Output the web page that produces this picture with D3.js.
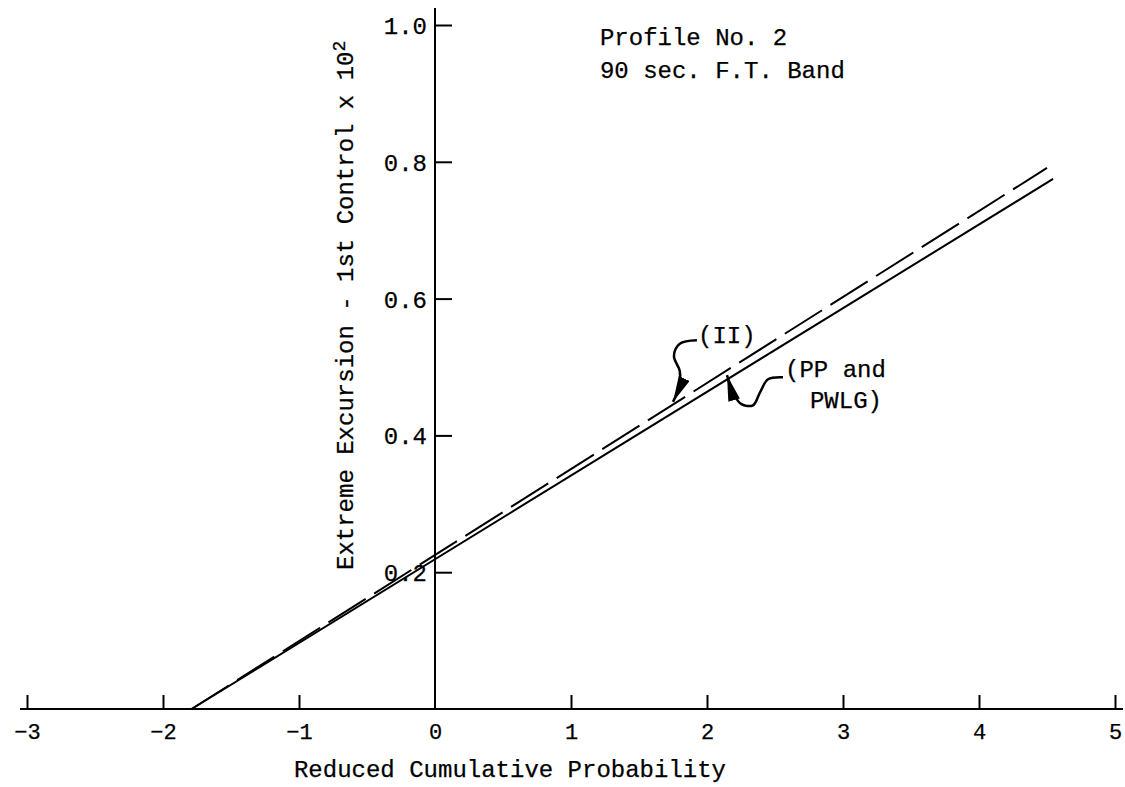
<!DOCTYPE html>
<html>
<head>
<meta charset="utf-8">
<script src="https://cdn.jsdelivr.net/npm/d3@7"></script>
<style>
  body { margin: 0; background: #fff; }
  svg text { font-family: "Liberation Mono", "Courier New", monospace; fill: #000; }
</style>
</head>
<body>
<div id="chart"></div>
<script>
// data
var xTicks = [-3, -2, -1, 0, 1, 2, 3, 4, 5];
var yTicks = [0.2, 0.4, 0.6, 0.8, 1.0];
var solidLine = [[-1.79, 0], [4.545, 0.775]];      // PP and PWLG
var dashedLine = [[-1.79, 0], [4.50, 0.791]];      // II
var arrowII = [[1.926, 0.539], [1.80, 0.534], [1.757, 0.516], [1.80, 0.494], [1.795, 0.472], [1.75, 0.449]];
var arrowPP = [[2.559, 0.485], [2.449, 0.482], [2.39, 0.463], [2.338, 0.444], [2.25, 0.446], [2.191, 0.463], [2.147, 0.488]];

var width = 1125,
    height = 787;

var svg = d3.select('#chart').append('svg')
    .attr('width', width)
    .attr('height', height);

var x = d3.scaleLinear().domain([-3, 5]).range([27, 1115]);
var y = d3.scaleLinear().domain([0, 1]).range([709, 25]);

// filled arrowhead, sized in pixels
svg.append('defs').append('marker')
    .attr('id', 'head')
    .attr('viewBox', '0 0 26 12')
    .attr('refX', 26)
    .attr('refY', 6)
    .attr('markerWidth', 26)
    .attr('markerHeight', 12)
    .attr('markerUnits', 'userSpaceOnUse')
    .attr('orient', 'auto')
    .append('path')
    .attr('d', 'M0,0 L26,6 L0,12 Z')
    .attr('fill', '#000');

// x axis
var xAxis = d3.axisBottom(x)
    .tickValues(xTicks)
    .tickSize(-14)
    .tickPadding(24)
    .tickFormat(d3.format('d'));

var gx = svg.append('g')
    .attr('transform', 'translate(0,' + y(0) + ')')
    .call(xAxis);
gx.select('.domain').remove();
gx.selectAll('.tick line').attr('stroke', '#000').attr('stroke-width', 2);
gx.selectAll('.tick').filter(function(d) { return d === 0; }).select('line').remove();
gx.selectAll('.tick text')
    .attr('font-size', '22px')
    .attr('font-family', '"Liberation Mono", monospace')
    .attr('dy', '0')
    .attr('y', 30);

svg.append('line')
    .attr('x1', 20).attr('x2', 1123)
    .attr('y1', y(0)).attr('y2', y(0))
    .attr('stroke', '#000').attr('stroke-width', 2);

// y axis
var yAxis = d3.axisLeft(y)
    .tickValues(yTicks)
    .tickSize(-17)
    .tickPadding(8)
    .tickFormat(d3.format('.1f'));

var gy = svg.append('g')
    .attr('transform', 'translate(' + x(0) + ',0)')
    .call(yAxis);
gy.select('.domain').remove();
gy.selectAll('.tick line').attr('stroke', '#000').attr('stroke-width', 2);
gy.selectAll('.tick text')
    .attr('font-size', '24px')
    .attr('font-family', '"Liberation Mono", monospace')
    .attr('dy', '0.35em');

svg.append('line')
    .attr('x1', x(0)).attr('x2', x(0))
    .attr('y1', 8).attr('y2', y(0))
    .attr('stroke', '#000').attr('stroke-width', 2);

// axis titles
svg.append('text')
    .attr('x', 510)
    .attr('y', 777)
    .attr('text-anchor', 'middle')
    .attr('font-size', '24px')
    .text('Reduced Cumulative Probability');

var yTitle = svg.append('text')
    .attr('transform', 'translate(353,570) rotate(-90)')
    .attr('font-size', '24px')
    .text('Extreme Excursion - 1st Control x 10');
yTitle.append('tspan')
    .attr('dy', '-0.45em')
    .attr('font-size', '18px')
    .text('2');

// the two fitted lines
var line = d3.line()
    .x(function(d) { return x(d[0]); })
    .y(function(d) { return y(d[1]); });

svg.append('path')
    .datum(solidLine)
    .attr('d', line)
    .attr('fill', 'none')
    .attr('stroke', '#000')
    .attr('stroke-width', 2);

svg.append('path')
    .datum(dashedLine)
    .attr('d', line)
    .attr('fill', 'none')
    .attr('stroke', '#000')
    .attr('stroke-width', 2)
    .attr('stroke-dasharray', '44,10');

// annotations
var curve = d3.line()
    .x(function(d) { return x(d[0]); })
    .y(function(d) { return y(d[1]); })
    .curve(d3.curveCatmullRom);

[arrowII, arrowPP].forEach(function(pts) {
  svg.append('path')
      .datum(pts)
      .attr('d', curve)
      .attr('fill', 'none')
      .attr('stroke', '#000')
      .attr('stroke-width', 2.5)
      .attr('marker-end', 'url(#head)');
});

svg.append('text')
    .attr('x', x(1.934)).attr('y', y(0.535))
    .attr('font-size', '24px')
    .text('(II)');

svg.append('text')
    .attr('x', x(2.574)).attr('y', y(0.485))
    .attr('font-size', '24px')
    .text('(PP and');

svg.append('text')
    .attr('x', x(2.757)).attr('y', y(0.44))
    .attr('font-size', '24px')
    .text('PWLG)');

svg.append('text')
    .attr('x', x(1.213)).attr('y', y(0.971))
    .attr('font-size', '24px')
    .text('Profile No. 2');

svg.append('text')
    .attr('x', x(1.213)).attr('y', y(0.922))
    .attr('font-size', '24px')
    .text('90 sec. F.T. Band');

svg.selectAll('text').attr('stroke', '#000').attr('stroke-width', 0.25);
</script>
</body>
</html>
